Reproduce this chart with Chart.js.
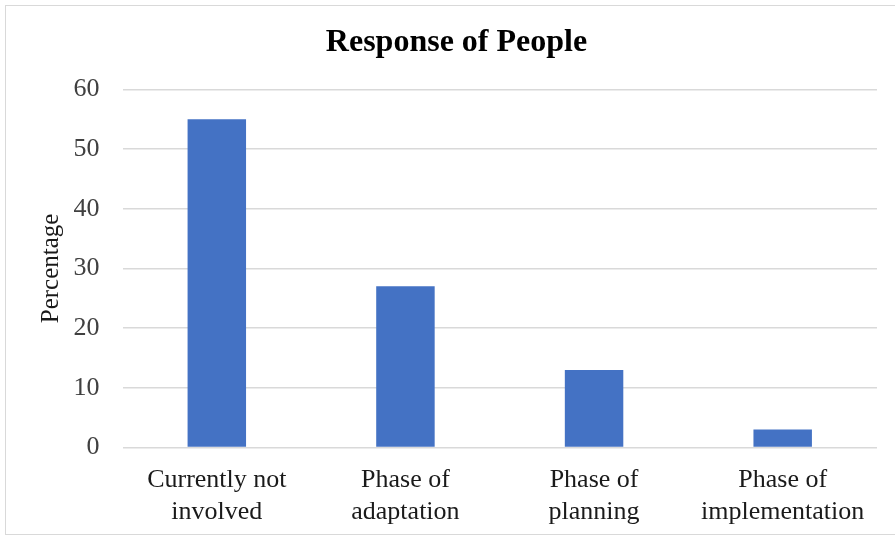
<!DOCTYPE html>
<html>
<head>
<meta charset="utf-8">
<script src="https://cdn.jsdelivr.net/npm/chart.js@4/dist/chart.umd.min.js"></script>
<style>
html,body{margin:0;padding:0;background:#fff;overflow:hidden;width:895px;height:539px;}
#frame{position:absolute;left:5px;top:5px;width:900px;height:530px;border:1.5px solid #d9d9d9;box-sizing:border-box;}
#wrap{position:absolute;left:0;top:0;width:897px;height:527px;}
</style>
</head>
<body>
<div id="frame"><div id="wrap"><canvas id="c"></canvas></div></div>
<script>
const categories = [["Currently not","involved"],["Phase of","adaptation"],["Phase of","planning"],["Phase of","implementation"]];
const values = [55, 27, 13, 3];
const chartTitle = "Response of People";
const yTitle = "Percentage";

const serif = "'Liberation Serif','DejaVu Serif',serif";
new Chart(document.getElementById('c'), {
  type: 'bar',
  data: {
    labels: categories,
    datasets: [{data: values, backgroundColor: '#4472c4', categoryPercentage: 1.0, barPercentage: 0.31}]
  },
  options: {
    responsive: true,
    maintainAspectRatio: false,
    animation: false,
    devicePixelRatio: 1,
    layout: {padding: {left: 30, right: 26, top: 0, bottom: 7}},
    plugins: {
      legend: {display: false},
      tooltip: {enabled: false},
      title: {display: true, text: chartTitle, color: '#000', font: {family: serif, size: 32, weight: 'bold'}, padding: {top: 18, bottom: 27}}
    },
    scales: {
      x: {
        grid: {display: false, drawTicks: false},
        border: {display: false},
        ticks: {color: '#1a1a1a', font: {family: serif, size: 26, lineHeight: 1.22}, padding: 17, maxRotation: 0, autoSkip: false},
        afterFit(scale) { scale.height = 78.5; }
      },
      y: {
        min: 0, max: 60,
        ticks: {stepSize: 10, color: '#404040', font: {family: serif, size: 26}, padding: 23},
        grid: {color: '#d9d9d9', lineWidth: 1.5, drawTicks: false},
        border: {display: false},
        title: {display: true, text: yTitle, color: '#1a1a1a', font: {family: serif, size: 25}, padding: {top: 0, bottom: 6}},
        afterFit(scale) { scale.width = 86.5; }
      }
    }
  }
});
</script>
</body>
</html>
